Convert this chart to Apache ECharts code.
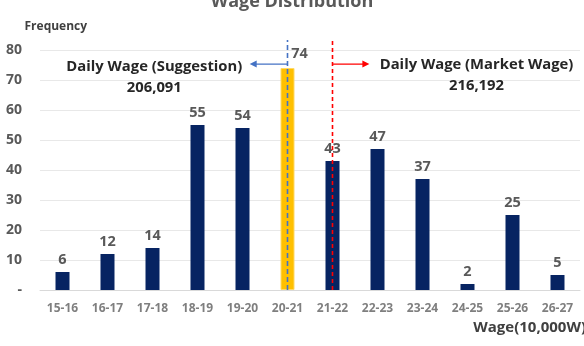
<!DOCTYPE html>
<html><head><meta charset="utf-8">
<script src="https://cdn.jsdelivr.net/npm/echarts@6/dist/echarts.min.js"></script>
<style>html,body{margin:0;padding:0;background:#fff}#c{width:584px;height:346px}</style>
</head><body><div id="c"></div>
<script>
const categories = ['15-16','16-17','17-18','18-19','19-20','20-21','21-22','22-23','23-24','24-25','25-26','26-27'];
const frequency = [6,12,14,55,54,74,43,47,37,2,25,5];
const highlightIndex = 5;
const yTicks = { min: 0, max: 80, interval: 10 };
const suggestion = { label: 'Daily Wage (Suggestion)', value: '206,091', index: 5 };
const market = { label: 'Daily Wage (Market Wage)', value: '216,192', index: 6 };

const FONT = '"Open Sans", "Liberation Sans", sans-serif';
const chart = echarts.init(document.getElementById('c'));

function renderAnn(params, api) {
  const top = 83.3, arrowY = 75.3;
  const children = [];
  function vline(idx, color, dash) {
    const p0 = api.coord([idx, 0]), p1 = api.coord([idx, top]);
    children.push({type:'line', shape:{x1:p0[0],y1:p0[1],x2:p1[0],y2:p1[1]}, style:{stroke:color, lineWidth:1.6, lineDash:dash}, z2: 10});
  }
  function arrow(fromIdx, toIdx, color) {
    const a = api.coord([fromIdx, arrowY]), b = api.coord([toIdx, arrowY]);
    const dir = b[0] > a[0] ? 1 : -1;
    children.push({type:'line', shape:{x1:a[0],y1:a[1],x2:b[0]-dir*5,y2:b[1]}, style:{stroke:color, lineWidth:1.3}});
    children.push({type:'polygon', shape:{points:[[b[0],b[1]],[b[0]-dir*7,b[1]-3.5],[b[0]-dir*7,b[1]+3.5]]}, style:{fill:color}});
  }
  function text(idx, y, str) {
    const p = api.coord([idx, y]);
    children.push({type:'text', style:{text:str, x:p[0], y:p[1], align:'center', verticalAlign:'middle', font:'bold 14.8px ' + FONT, fill:'#262626'}});
  }
  vline(suggestion.index, '#4472C4', [5,3]);
  vline(market.index, '#FF0000', [4,3]);
  arrow(suggestion.index, 4.16, '#4472C4');
  arrow(market.index, 6.82, '#FF0000');
  text(2.04, 74.3, suggestion.label);
  text(2.04, 67.3, suggestion.value);
  text(9.2, 75, market.label);
  text(9.2, 68, market.value);
  return {type:'group', children};
}

chart.setOption({
  animation: false,
  title: { text: 'Wage Distribution', left: 'center', top: -12, textStyle: { fontFamily: FONT, fontWeight: 'bold', fontSize: 18, color: '#595959' } },
  grid: { left: 40, right: 4, top: 50, bottom: 56, outerBoundsMode: 'none', containLabel: false },
  xAxis: [{
    type: 'category', data: categories,
    axisLine: { lineStyle: { color: '#d9d9d9' } }, axisTick: { show: false },
    axisLabel: { margin: 13, fontFamily: FONT, fontWeight: 'bold', fontSize: 12, color: '#7f7f7f' },
    name: 'Wage(10,000W)', nameLocation: 'end', nameGap: 6,
    nameTextStyle: { fontFamily: FONT, fontWeight: 'bold', fontSize: 15, color: '#404040', align: 'right', verticalAlign: 'top', padding: [30, 0, 0, 0] }
  }, {
    type: 'value', min: -0.5, max: 11.5, show: false
  }],
  yAxis: {
    type: 'value', min: yTicks.min, max: yTicks.max, interval: yTicks.interval,
    axisLine: { show: false }, axisTick: { show: false },
    splitLine: { lineStyle: { color: '#e8e8e8' } },
    axisLabel: { margin: 18, fontFamily: FONT, fontWeight: 'bold', fontSize: 14, color: '#595959', formatter: v => v === 0 ? '-' : v },
    name: 'Frequency', nameLocation: 'end', nameGap: 17,
    nameTextStyle: { fontFamily: FONT, fontWeight: 'bold', fontSize: 12, color: '#404040', align: 'left', padding: [0, 0, 0, -38] }
  },
  series: [{
    type: 'bar', xAxisIndex: 0, barWidth: 14,
    data: frequency.map((v, i) => i === highlightIndex
      ? { value: v, itemStyle: { color: '#FFC000', borderColor: '#FFD966', borderWidth: 1 }, label: { offset: [12, -2] } }
      : v),
    itemStyle: { color: '#072462' },
    label: { show: true, position: 'top', distance: 5, fontFamily: FONT, fontWeight: 'bold', fontSize: 14.5, color: '#595959' }
  }, {
    type: 'custom', xAxisIndex: 1, yAxisIndex: 0, clip: false, silent: true,
    data: [[0, 0]], renderItem: renderAnn, z: 5
  }]
});
</script></body></html>
